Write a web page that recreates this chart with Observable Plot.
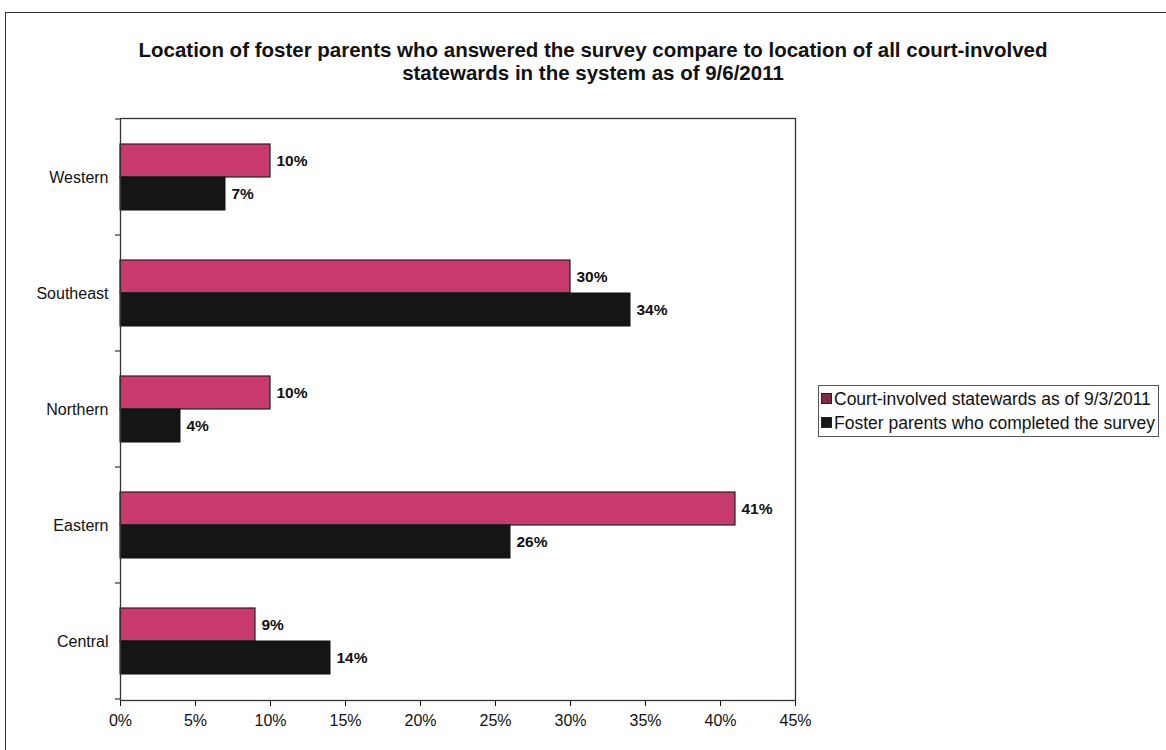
<!DOCTYPE html>
<html>
<head>
<meta charset="utf-8">
<script src="https://cdn.jsdelivr.net/npm/d3@7"></script>
<script src="https://cdn.jsdelivr.net/npm/@observablehq/plot@0.6"></script>
<style>
  html, body { margin: 0; padding: 0; background: #fff; overflow: hidden; }
  #page { position: relative; width: 1166px; height: 750px; font-family: "Liberation Sans", Arial, sans-serif; }
  #border { position: absolute; left: 5px; top: 12px; width: 1200px; height: 800px; border: 1.5px solid #333; box-sizing: border-box; }
  #title { position: absolute; left: 0; top: 38px; width: 1186px; text-align: center; font-weight: bold; font-size: 20.5px; line-height: 23px; color: #111; }
  #chart { position: absolute; left: 0; top: 100px; }
  #legend { position: absolute; left: 818px; top: 385px; border: 1px solid #555; padding: 1px 3px 1px 2px; font-size: 17.5px; line-height: 24px; color: #111; background: #fff; white-space: nowrap; }
  .sw { display: inline-block; width: 9px; height: 9px; margin-right: 2px; border: 1px solid #222; vertical-align: 1px; }
</style>
</head>
<body>
<div id="page">
  <div id="border"></div>
  <div id="title">Location of foster parents who answered the survey compare to location of all court-involved<br>statewards in the system as of 9/6/2011</div>
  <div id="chart"></div>
  <div id="legend"></div>
</div>
<script>
const regions = ["Western", "Southeast", "Northern", "Eastern", "Central"];
const seriesNames = ["Court-involved statewards as of 9/3/2011", "Foster parents who completed the survey"];
const courtValues = [10, 30, 10, 41, 9];
const fosterValues = [7, 34, 4, 26, 14];
const xTicks = [0, 5, 10, 15, 20, 25, 30, 35, 40, 45];
const barColors = ["#c8396e", "#151515"];
const legendColors = ["#7b2b48", "#151515"];

const court = regions.map((r, i) => ({region: r, value: courtValues[i]}));
const foster = regions.map((r, i) => ({region: r, value: fosterValues[i]}));

const half = 33;
const chart = Plot.plot({
  width: 820,
  height: 640,
  marginLeft: 120,
  marginRight: 25,
  marginTop: 18,
  marginBottom: 40,
  style: {fontFamily: "'Liberation Sans', Arial, sans-serif", fontSize: "16px", color: "#111", background: "transparent"},
  x: {domain: [0, 45], ticks: xTicks, tickFormat: d => d + "%", label: null},
  y: {domain: regions, paddingInner: 0.43, paddingOuter: 0.215, label: null},
  marks: [
    Plot.barX(court, {x: "value", y: "region", fill: barColors[0], stroke: "#222", strokeWidth: 1.2, insetBottom: half}),
    Plot.barX(foster, {x: "value", y: "region", fill: barColors[1], stroke: "#111", insetTop: half}),
    Plot.text(court, {x: "value", y: "region", text: d => d.value + "%", dx: 6, dy: -16, textAnchor: "start", fontWeight: "bold", fontSize: 15.5, fill: "#111"}),
    Plot.text(foster, {x: "value", y: "region", text: d => d.value + "%", dx: 6, dy: 17, textAnchor: "start", fontWeight: "bold", fontSize: 15.5, fill: "#111"}),
    Plot.axisX({ticks: xTicks, tickFormat: d => d + "%", tickSize: 6, tickPadding: 8, fontSize: 16}),
    Plot.axisY({tickSize: 0, tickPadding: 12, fontSize: 16}),
    Plot.frame({stroke: "#333", strokeWidth: 1.3})
  ]
});
document.getElementById("chart").appendChild(chart);

// small category-boundary ticks on the left axis, from the plot's own y scale
const ys = chart.scale("y");
const xs = chart.scale("x");
const gap = (ys.step - ys.bandwidth) / 2;
const bounds = regions.map(r => ys.apply(r) - gap).concat([ys.apply(regions[regions.length - 1]) + ys.bandwidth + gap]);
const x0 = xs.apply(0);
d3.select(chart).append("g")
  .attr("stroke", "#333").attr("stroke-width", 1.2)
  .selectAll("line").data(bounds).join("line")
  .attr("x1", x0 - 5).attr("x2", x0)
  .attr("y1", d => d).attr("y2", d => d);

const legend = document.getElementById("legend");
seriesNames.forEach((name, i) => {
  const row = document.createElement("div");
  const sw = document.createElement("span");
  sw.className = "sw";
  sw.style.background = legendColors[i];
  row.appendChild(sw);
  row.appendChild(document.createTextNode(name));
  legend.appendChild(row);
});
</script>
</body>
</html>
